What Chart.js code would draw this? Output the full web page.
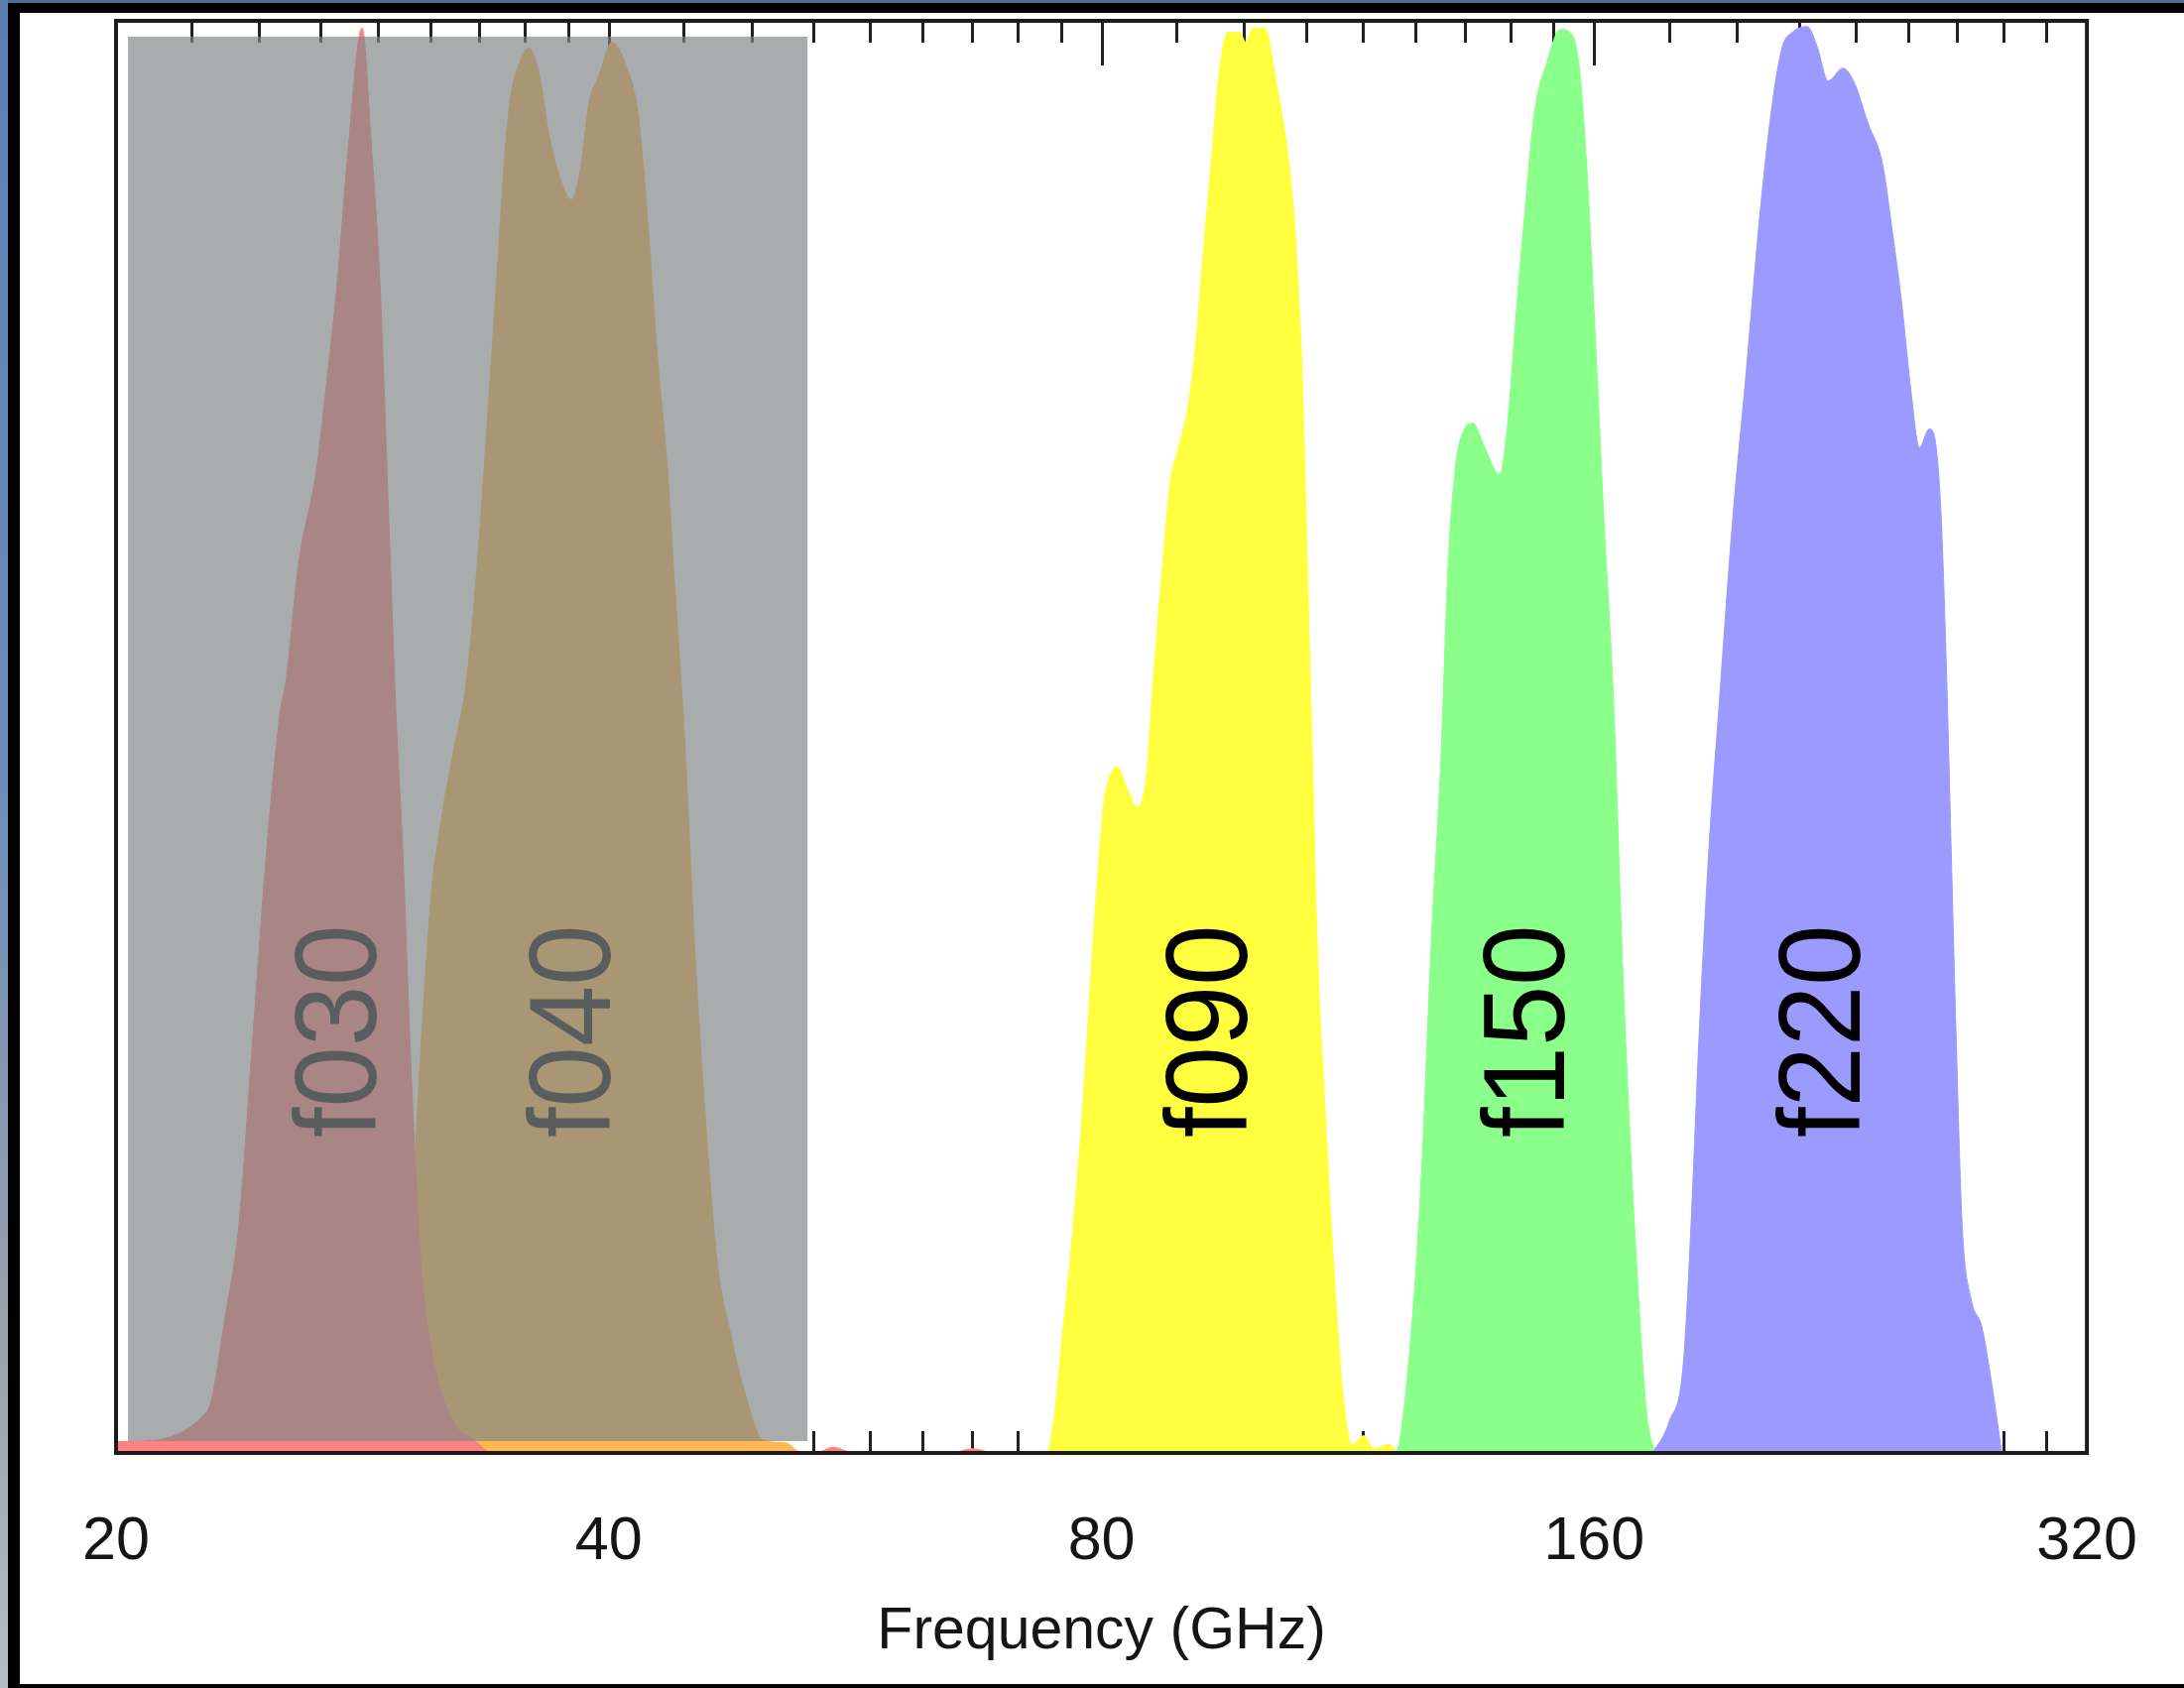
<!DOCTYPE html>
<html lang="en">
<head>
  <meta charset="UTF-8">
  <title>Detector bands</title>
  <script src="https://cdn.jsdelivr.net/npm/chart.js"></script>
  <style>
    body {
      margin: 0;
      width: 2202px;
      height: 1702px;
      overflow: hidden;
      position: relative;
      background: #000;
    }
    #edgeTop {
      position: absolute; left: 0; top: 0; width: 100%; height: 3px;
      background: #4a6d9c;
    }
    #edgeLeft {
      position: absolute; left: 0; top: 0; width: 8px; height: 100%;
      background: linear-gradient(#5a80b2, #6a8cba 45%, #9aa2ac 80%, #b8bcc2);
    }
    #paper {
      position: absolute; left: 20px; top: 13px; right: 0; bottom: 4px;
      background: #fff;
    }
    /* a few px wider than the page: the "320" label reserves room on the right */
    #bands {
      position: absolute; left: 0; top: 0;
    }
  </style>
</head>
<body>
  <div id="edgeTop"></div>
  <div id="edgeLeft"></div>
  <div id="paper"></div>
  <canvas id="bands" width="2209" height="1702"></canvas>

  <script>
    // band names and passbands (frequency in GHz, normalised response)
    const bandNames = ['f030', 'f040', 'f090', 'f150', 'f220'];

    const f030Ghz  = [20.00, 20.37, 22.74, 23.32, 23.78, 24.25, 24.73, 25.18, 25.42, 25.85, 26.51, 26.85, 27.30, 27.72, 28.27, 28.63, 28.99, 29.35, 29.64, 29.93, 30.31, 30.74, 31.30, 32.14, 33.10, 34.00, 45.12, 53.50, 54.85, 56.50, 64.80, 66.68, 68.50];
    const f030Resp = [0.008, 0.008, 0.029, 0.095, 0.161, 0.292, 0.423, 0.515, 0.542, 0.620, 0.686, 0.739, 0.817, 0.909, 0.995, 0.916, 0.817, 0.653, 0.521, 0.423, 0.259, 0.127, 0.062, 0.022, 0.009, 0, 0, 0, 0.004, 0, 0, 0.003, 0];

    const f040Ghz  = [20.00, 28.87, 29.89, 30.19, 30.52, 31.13, 31.61, 32.14, 32.77, 33.38, 33.80, 34.27, 34.61, 34.90, 35.24, 35.74, 36.29, 36.75, 37.37, 37.95, 38.43, 38.91, 39.46, 40.18, 40.97, 41.67, 42.19, 42.84, 43.45, 43.81, 44.55, 45.12, 45.88, 46.59, 47.50, 48.44, 49.68, 51.36, 52.31, 55.62];
    const f040Resp = [0, 0.001, 0.045, 0.114, 0.226, 0.384, 0.443, 0.489, 0.542, 0.647, 0.739, 0.843, 0.916, 0.952, 0.969, 0.981, 0.962, 0.922, 0.890, 0.875, 0.896, 0.943, 0.962, 0.985, 0.969, 0.936, 0.870, 0.765, 0.686, 0.620, 0.489, 0.357, 0.226, 0.134, 0.082, 0.042, 0.009, 0.007, 0.001, 0];

    const f090Ghz  = [68.57, 74.05, 75.92, 77.74, 79.06, 80.17, 80.73, 81.75, 83.01, 84.06, 85.13, 86.08, 87.17, 88.15, 89.01, 90.39, 91.28, 92.30, 93.47, 94.52, 95.58, 97.19, 98.01, 98.97, 100.64, 102.34, 103.93, 104.95, 105.68, 106.12, 106.87, 107.62, 108.37, 109.74, 110.97, 112.22, 113.79, 115.72, 117.34, 119.83, 121.50];
    const f090Resp = [0, 0, 0.095, 0.226, 0.357, 0.449, 0.469, 0.479, 0.463, 0.451, 0.469, 0.542, 0.620, 0.679, 0.699, 0.732, 0.771, 0.837, 0.909, 0.969, 0.992, 0.992, 0.985, 0.995, 0.995, 0.956, 0.909, 0.860, 0.800, 0.751, 0.620, 0.489, 0.357, 0.226, 0.127, 0.048, 0.006, 0.012, 0.003, 0.006, 0];

    const f150Ghz  = [119.83, 120.99, 123.21, 125.46, 127.23, 129.01, 130.28, 131.55, 133.03, 134.90, 137.18, 140.08, 141.66, 143.25, 145.06, 147.10, 149.79, 152.54, 154.67, 156.64, 158.38, 160.17, 162.18, 164.47, 166.32, 168.18, 170.31, 172.21, 174.15];
    const f150Resp = [0, 0, 0.062, 0.193, 0.357, 0.489, 0.620, 0.686, 0.713, 0.719, 0.702, 0.683, 0.719, 0.791, 0.864, 0.936, 0.972, 0.994, 0.992, 0.969, 0.896, 0.785, 0.653, 0.521, 0.357, 0.226, 0.108, 0.029, 0];

    const f220Ghz  = [172.21, 173.92, 177.84, 181.36, 183.38, 185.45, 188.05, 190.70, 194.45, 198.02, 202.21, 205.61, 208.51, 211.43, 215.92, 218.94, 222.34, 227.03, 230.85, 235.09, 240.06, 243.10, 246.53, 249.98, 252.80, 256.35, 258.87, 260.70, 262.50, 264.35, 266.20, 268.44, 271.83, 276.04, 279.92, 283.86];
    const f220Resp = [0, 0.002, 0.022, 0.062, 0.161, 0.292, 0.423, 0.521, 0.653, 0.751, 0.870, 0.943, 0.982, 0.992, 0.996, 0.982, 0.958, 0.967, 0.956, 0.929, 0.900, 0.857, 0.804, 0.739, 0.702, 0.715, 0.702, 0.653, 0.555, 0.423, 0.292, 0.161, 0.108, 0.088, 0.048, 0];

    // labelled ticks of the log frequency axis
    const axisTicks = [20, 40, 80, 160, 320];

    // styling / placement
    const bandColors = ['#ff8282', '#ffb84f', '#ffff40', '#8aff8a', '#9a9aff'];
    const labelAtGhz = [28.83, 40.07, 98.14, 153.40, 232.48];
    const labelAtResp = 0.2216;
    // grey box laid over the low-frequency bands
    const shadeGhz = [20.34, 52.9];
    const shadeResp = [0.0083, 0.989];

    const FONT = '"Liberation Sans", Arial, Helvetica, sans-serif';

    const series = [
      [f030Ghz, f030Resp], [f040Ghz, f040Resp], [f090Ghz, f090Resp],
      [f150Ghz, f150Resp], [f220Ghz, f220Resp]
    ];

    // minor ticks: 8 linear subdivisions inside each octave
    const minorTicks = [];
    for (let i = 0; i < axisTicks.length - 1; i++) {
      const step = (axisTicks[i + 1] - axisTicks[i]) / 9;
      for (let k = 1; k <= 8; k++) minorTicks.push(axisTicks[i] + k * step);
    }

    const decor = {
      id: 'decor',
      beforeDatasetsDraw(chart) {
        // inward tick marks, under the filled bands
        const { ctx, chartArea: a, scales: { x } } = chart;
        ctx.save();
        ctx.strokeStyle = '#222';
        ctx.lineWidth = 3;
        ctx.beginPath();
        const mark = (v, len) => {
          const px = Math.round(x.getPixelForValue(v)) + 0.5;
          ctx.moveTo(px, a.bottom); ctx.lineTo(px, a.bottom - len);
          ctx.moveTo(px, a.top); ctx.lineTo(px, a.top + len);
        };
        minorTicks.forEach(v => mark(v, 22));
        axisTicks.slice(1, -1).forEach(v => mark(v, 45));
        ctx.stroke();
        ctx.restore();
      },
      afterDatasetsDraw(chart) {
        const { ctx, chartArea: a, scales: { x, y } } = chart;

        // rotated band names
        ctx.save();
        ctx.fillStyle = '#000';
        ctx.font = '116px ' + FONT;
        ctx.textAlign = 'left';
        ctx.textBaseline = 'alphabetic';
        bandNames.forEach((name, i) => {
          ctx.save();
          ctx.translate(x.getPixelForValue(labelAtGhz[i]), y.getPixelForValue(labelAtResp) + 2);
          ctx.rotate(-Math.PI / 2);
          ctx.scale(0.95, 1);
          ctx.fillText(name, 0, 0);
          ctx.restore();
        });
        ctx.restore();

        // grey box over f030 / f040
        const x1 = x.getPixelForValue(shadeGhz[0]);
        const x2 = x.getPixelForValue(shadeGhz[1]);
        const y1 = y.getPixelForValue(shadeResp[1]);
        const y2 = y.getPixelForValue(shadeResp[0]);
        ctx.save();
        ctx.fillStyle = 'rgba(131, 135, 135, 0.69)';
        ctx.fillRect(x1, y1, x2 - x1, y2 - y1);
        ctx.restore();

        // plot frame
        ctx.save();
        ctx.strokeStyle = '#1c1c1c';
        ctx.lineWidth = 4;
        ctx.strokeRect(a.left, a.top, a.right - a.left, a.bottom - a.top);
        ctx.restore();
      }
    };

    const chart = new Chart(document.getElementById('bands'), {
      type: 'line',
      data: {
        datasets: series.map(([ghz, resp], i) => ({
          label: bandNames[i],
          data: ghz.map((g, j) => ({ x: g, y: resp[j] })),
          backgroundColor: bandColors[i],
          borderColor: bandColors[i],
          borderWidth: 1,
          fill: 'origin',
          pointRadius: 0,
          cubicInterpolationMode: 'monotone'
        }))
      },
      options: {
        responsive: false,
        animation: false,
        devicePixelRatio: 1,
        events: [],
        layout: { padding: { left: 117, right: 0, top: 21, bottom: 21 } },
        plugins: { legend: { display: false }, tooltip: { enabled: false } },
        scales: {
          x: {
            type: 'logarithmic',
            min: 20,
            max: 320,
            bounds: 'data',
            afterBuildTicks: scale => { scale.ticks = axisTicks.map(v => ({ value: v })); },
            grid: { display: false, drawTicks: false },
            border: { display: false },
            ticks: {
              autoSkip: false,
              maxRotation: 0,
              minRotation: 0,
              padding: 54,
              color: '#151515',
              font: { family: FONT, size: 61 },
              callback: v => String(v)
            },
            title: {
              display: true,
              text: 'Frequency (GHz)',
              color: '#151515',
              font: { family: FONT, size: 59 },
              padding: { top: -36, bottom: 0 }
            }
          },
          y: { type: 'linear', min: 0, max: 1, display: false }
        }
      },
      plugins: [decor]
    });
  </script>
</body>
</html>
